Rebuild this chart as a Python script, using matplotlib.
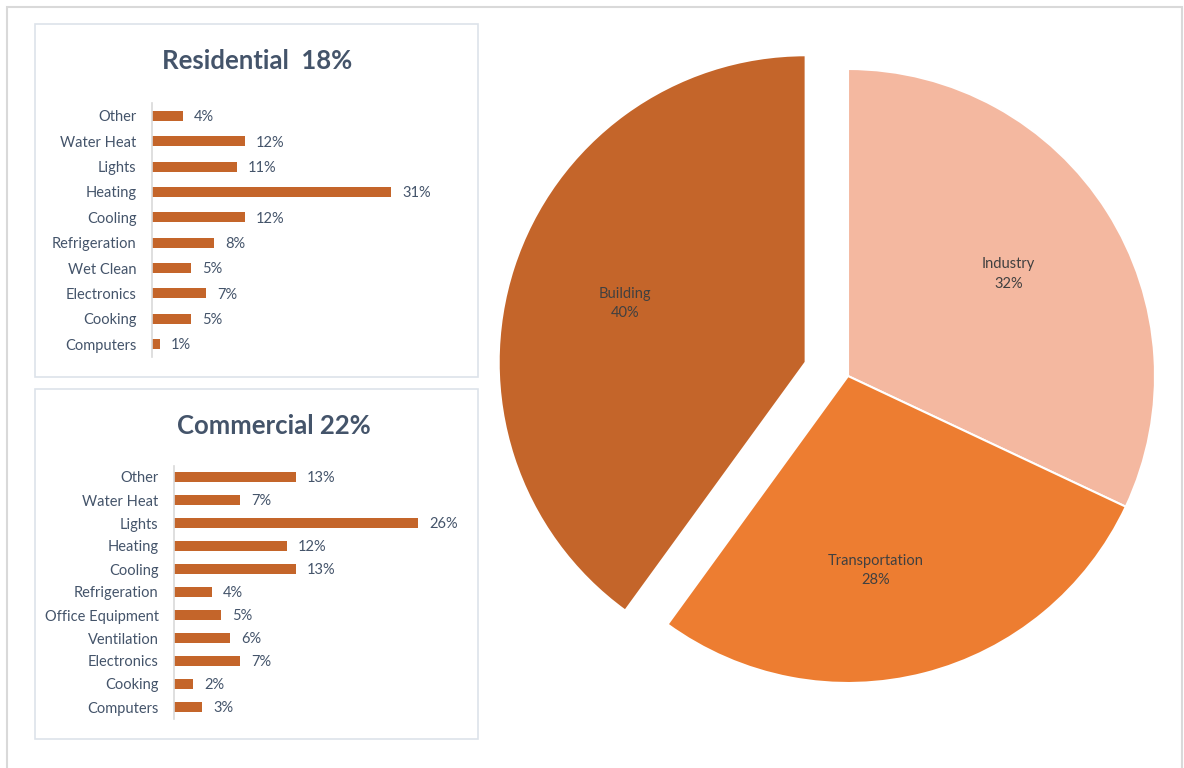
import numpy as np
import matplotlib.pyplot as plt
from matplotlib.patches import Rectangle

plt.rcParams['font.family'] = ['Lato', 'DejaVu Sans']

# Datos
sectores = ['Building', 'Industry', 'Transportation']
sector_pct = [40, 32, 28]

res_usos = ['Other', 'Water Heat', 'Lights', 'Heating', 'Cooling', 'Refrigeration',
            'Wet Clean', 'Electronics', 'Cooking', 'Computers']
res_pct = [4, 12, 11, 31, 12, 8, 5, 7, 5, 1]

com_usos = ['Other', 'Water Heat', 'Lights', 'Heating', 'Cooling', 'Refrigeration',
            'Office Equipment', 'Ventilation', 'Electronics', 'Cooking', 'Computers']
com_pct = [13, 7, 26, 12, 13, 4, 5, 6, 7, 2, 3]

W, H = 1184, 768
fig = plt.figure(figsize=(W / 100, H / 100), dpi=100)
fig.patch.set_facecolor('white')

def fx(px):
    return px / W

def fy(py):
    return 1 - py / H

# marcos en pixeles (izq, arriba, der, abajo)
def marco(x0, y0, x1, y1, color, lw):
    fig.patches.append(Rectangle((fx(x0), fy(y1)), fx(x1 - x0), (y1 - y0) / H,
                                 transform=fig.transFigure, fill=False,
                                 edgecolor=color, linewidth=lw, zorder=0))

marco(7, 7, 1182, 800, '#D9D9D9', 1.5)
marco(35, 24, 478, 377, '#DDE3EA', 1.2)
marco(35, 389, 478, 739, '#DDE3EA', 1.2)

naranja = '#C4652A'
txt_eje = '#44546A'

def barras(ax, usos, pct, xmax, titulo, ty, tx):
    ax.barh(usos, pct, height=0.4, color=naranja)
    ax.set_xlim(0, xmax)
    ax.set_ylim(len(usos) - 0.5, -0.5)
    for s in ['top', 'right', 'bottom']:
        ax.spines[s].set_visible(False)
    ax.spines['left'].set_color('#D9D9D9')
    ax.spines['left'].set_linewidth(1.2)
    ax.set_xticks([])
    ax.tick_params(axis='y', length=0, pad=11, labelsize=10.5, labelcolor=txt_eje)
    for i, v in enumerate(pct):
        ax.annotate(f'{v}%', (v, i), xytext=(8, -1), textcoords='offset points',
                    va='center', ha='left', fontsize=10.5, color=txt_eje)
    fig.text(fx(tx), fy(ty), titulo, ha='center', va='center',
             fontsize=18.5, fontweight='bold', color=txt_eje)

# Residencial: eje en x=152, filas de y=116 a y=344
ax1 = fig.add_axes([fx(152), fy(356.7), 40 * 7.71 / W, (356.7 - 103.3) / H])
barras(ax1, res_usos, res_pct, 40, 'Residential  18%', 61, 257)

# Comercial: eje en x=174, filas de y=477 a y=707
ax2 = fig.add_axes([fx(174), fy(718.5), 30 * 9.38 / W, (718.5 - 465.5) / H])
barras(ax2, com_usos, com_pct, 30, 'Commercial 22%', 426, 274)

# Grafico circular
R = 307
L = 420
ax3 = fig.add_axes([fx(848 - L), fy(376 + L), 2 * L / W, 2 * L / H])
colores = [naranja, '#F4B8A0', '#ED7D31']
etiquetas = [f'{s}\n{p}%' for s, p in zip(sectores, sector_pct)]
wedges, textos = ax3.pie(sector_pct, colors=colores, startangle=90 + 144,
                         counterclock=False, explode=[0.145, 0, 0],
                         labels=etiquetas, labeldistance=0.62,
                         wedgeprops=dict(edgecolor='white', linewidth=1.5),
                         textprops=dict(fontsize=10.5, color='#404040',
                                        ha='center', va='center',
                                        linespacing=1.5))
# la etiqueta de Transportation va un poco mas abajo
ang = np.deg2rad(-81.8)
textos[2].set_position((0.64 * np.cos(ang), 0.64 * np.sin(ang)))
ax3.set_xlim(-L / R, L / R)
ax3.set_ylim(-L / R, L / R)
ax3.axis('off')

plt.savefig('out.png', dpi=100, facecolor='white')
